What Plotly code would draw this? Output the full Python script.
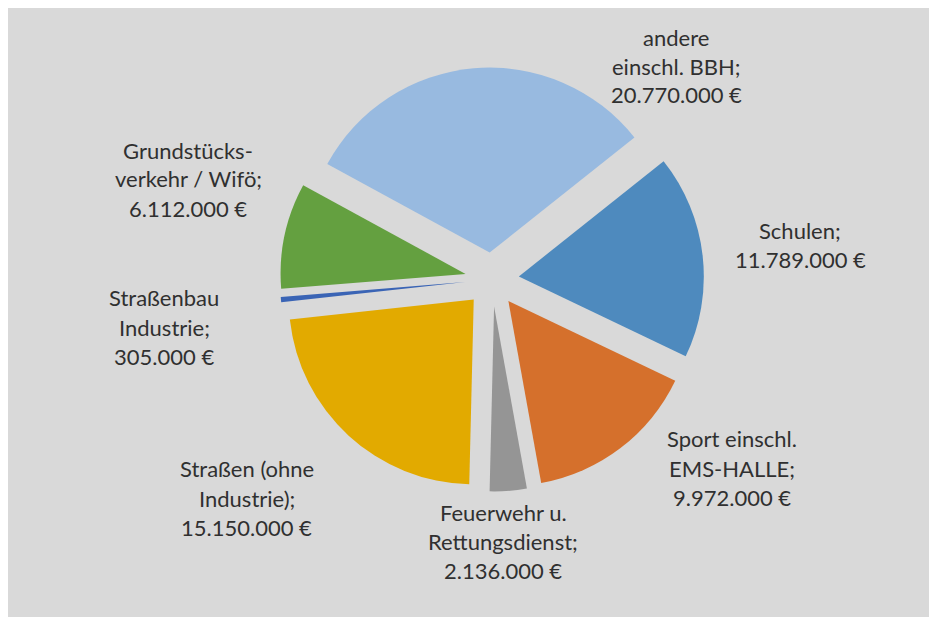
import plotly.graph_objects as go

# ---- data ----
categories = [
    "Schulen",
    "Sport einschl.<br>EMS-HALLE",
    "Feuerwehr u.<br>Rettungsdienst",
    "Straßen (ohne<br>Industrie)",
    "Straßenbau<br>Industrie",
    "Grundstücks-<br>verkehr / Wifö",
    "andere<br>einschl. BBH",
]
values = [11789000, 9972000, 2136000, 15150000, 305000, 6112000, 20770000]
colors = ["#4E8ABE", "#D5702C", "#959595", "#E2AA00", "#3A64B5", "#64A040", "#98BAE0"]

# label anchor positions (pixel centre x, first-line y) in the 929x617 canvas
label_pos = [
    (800, 230),
    (732, 439),
    (503, 512),
    (247, 469),
    (164, 298),
    (188, 150),
    (676, 37),
]

W, H = 929, 617
LINE = 29


def fmt_eur(v):
    return f"{v:,}".replace(",", ".") + " €"


fig = go.Figure()
fig.add_trace(go.Pie(
    labels=[c.replace("<br>", " ") for c in categories],
    values=values,
    sort=False,
    direction="clockwise",
    rotation=51.5,
    pull=[0.146] * len(values),
    marker=dict(colors=colors, line=dict(width=0)),
    textinfo="none",
    hoverinfo="label+value",
    showlegend=False,
    domain=dict(x=[0.3014, 0.7578], y=[0.2034, 0.8906]),
))

annotations = []
for cat, val, (px, py) in zip(categories, values, label_pos):
    lines = (cat + ";").split("<br>") + [fmt_eur(val)]
    for i, ln in enumerate(lines):
        y = py + i * LINE
        annotations.append(dict(
            x=px / W, y=1 - y / H, xref="paper", yref="paper",
            text=ln, showarrow=False, xanchor="center", yanchor="middle",
            font=dict(family="Lato", size=22, color="#303030"),
        ))

fig.update_layout(
    width=W, height=H,
    margin=dict(l=0, r=0, t=0, b=0),
    paper_bgcolor="white",
    plot_bgcolor="white",
    annotations=annotations,
    shapes=[dict(type="rect", xref="paper", yref="paper",
                 x0=8 / W, x1=1, y0=0, y1=1 - 8 / H,
                 fillcolor="#D9D9D9", line=dict(width=0), layer="below")],
)

fig.write_html(
    "out.html",
    config={"displayModeBar": False},
    post_script=("document.body.style.margin='0';"
                 "document.body.style.overflow='hidden';"
                 "document.body.style.background='#D9D9D9';"),
)
